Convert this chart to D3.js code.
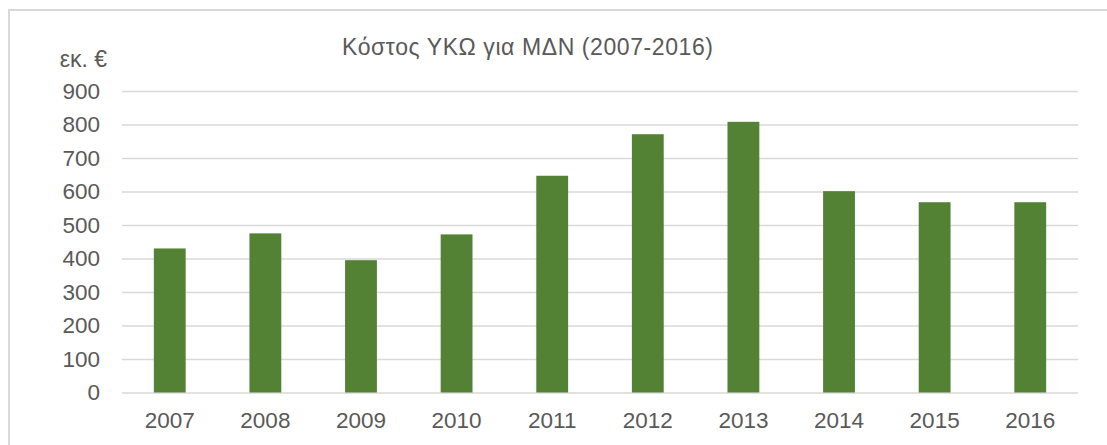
<!DOCTYPE html>
<html><head><meta charset="utf-8">
<script src="https://cdn.jsdelivr.net/npm/d3@7"></script>
<style>body{margin:0;background:#fff;}svg{display:block;font-family:"Liberation Sans",Arial,sans-serif;}</style>
</head><body>
<script>
const categories = ["2007","2008","2009","2010","2011","2012","2013","2014","2015","2016"];
const values = [430, 475, 395, 472, 647, 771, 808, 601, 568, 568];
const yTicks = [0,100,200,300,400,500,600,700,800,900];
const title = "Κόστος ΥΚΩ για ΜΔΝ (2007-2016)";
const unitLabel = "εκ. €";

const W = 1107, H = 445;
const svg = d3.select("body").append("svg").attr("width", W).attr("height", H);
svg.append("rect").attr("x", 9).attr("y", 10).attr("width", W + 20).attr("height", H + 20)
  .attr("fill", "#fff").attr("stroke", "#d9d9d9").attr("stroke-width", 2);

const x = d3.scaleBand().domain(categories).range([122, 1078]).paddingInner(0.667).paddingOuter(0.333);
const y = d3.scaleLinear().domain([0, 900]).range([392.5, 91]);

const yAxis = svg.append("g").attr("transform", "translate(122,0)")
  .call(d3.axisLeft(y).tickValues(yTicks).tickSize(-(1078 - 122)).tickPadding(22));
yAxis.select(".domain").remove();
yAxis.selectAll(".tick line").attr("stroke", "#d9d9d9").attr("stroke-width", 1.4);
yAxis.selectAll(".tick text").attr("fill", "#595959").attr("font-size", "22.5px");

svg.append("g").selectAll("rect").data(values).join("rect")
  .attr("x", (d, i) => x(categories[i]))
  .attr("width", x.bandwidth())
  .attr("y", d => y(d))
  .attr("height", d => y(0) - y(d))
  .attr("fill", "#548235");

const xAxis = svg.append("g").attr("transform", `translate(0,${y(0)})`)
  .call(d3.axisBottom(x).tickSize(0).tickPadding(20));
xAxis.select(".domain").remove();
xAxis.selectAll(".tick text").attr("fill", "#595959").attr("font-size", "22.5px");

const t = svg.append("text").attr("x", 527.5).attr("y", 55).attr("text-anchor", "middle")
  .attr("fill", "#595959").attr("font-size", "23px").text(title);
const tw = t.node().getComputedTextLength();
if (tw > 0) t.attr("textLength", 371).attr("lengthAdjust", "spacing");
svg.append("text").attr("x", 107).attr("y", 67).attr("text-anchor", "end")
  .attr("fill", "#595959").attr("font-size", "23px").text(unitLabel);
</script>
</body></html>
